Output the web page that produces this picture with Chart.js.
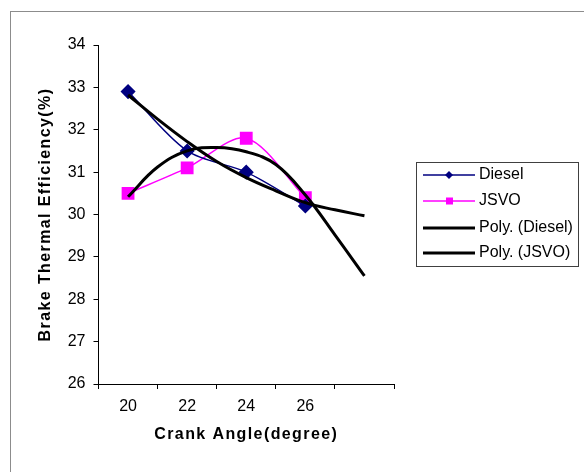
<!DOCTYPE html>
<html>
<head>
<meta charset="utf-8">
<script src="https://cdn.jsdelivr.net/npm/chart.js@4.4.0/dist/chart.umd.min.js"></script>
<style>
  html, body { margin: 0; padding: 0; background: #fff; }
  canvas { display: block; }
</style>
</head>
<body>
<canvas id="chart" width="584" height="472"></canvas>
<script>
// Category labels (last slot is empty: trendlines are forecast one period forward)
const angles = ['20', '22', '24', '26', ''];
const yTicks = [26, 27, 28, 29, 30, 31, 32, 33, 34];

// Measured series
const diesel = [32.9, 31.5, 31.0, 30.2];
const jsvo = [30.5, 31.1, 31.8, 30.4];

// Polynomial trendlines at half-category steps
const trendPos = [1, 1.5, 2, 2.5, 3, 3.5, 4, 4.5, 5];
const polyDiesel = [32.82, 32.25, 31.72, 31.25, 30.87, 30.56, 30.28, 30.11, 29.97];
const polyJsvo = [30.42, 31.12, 31.5, 31.58, 31.48, 31.18, 30.46, 29.52, 28.55];

const FONT = 'Liberation Sans, Arial, sans-serif';

// Outer chart border + axis titles with wide letter spacing
const frame = {
    id: 'frame',
    beforeDraw(chart) {
        const ctx = chart.ctx;
        ctx.save();
        ctx.strokeStyle = '#8c8c8c';
        ctx.lineWidth = 1;
        ctx.strokeRect(10.5, 11.5, 800, 800);
        ctx.restore();
    },
    afterDraw(chart) {
        const ctx = chart.ctx;
        const area = chart.chartArea;
        ctx.save();
        ctx.fillStyle = '#000';
        ctx.font = 'bold 16px ' + FONT;
        ctx.letterSpacing = '1.4px';
        ctx.textAlign = 'center';
        ctx.textBaseline = 'middle';
        ctx.fillText('Crank Angle(degree)', (area.left + area.right) / 2, 435);
        ctx.translate(46, (area.top + area.bottom) / 2);
        ctx.rotate(-Math.PI / 2);
        ctx.fillText('Brake Thermal Efficiency(%)', 0, 0);
        ctx.restore();
    }
};

// Excel-style legend box on the right
const sideLegend = {
    id: 'sideLegend',
    afterDraw(chart) {
        const ctx = chart.ctx;
        ctx.save();
        ctx.strokeStyle = '#404040';
        ctx.lineWidth = 1;
        ctx.strokeRect(416.5, 162.5, 162, 104);
        ctx.font = '16px ' + FONT;
        ctx.textBaseline = 'middle';
        const rows = [175, 201, 228, 253];
        chart.data.datasets.forEach((ds, i) => {
            const y = rows[i];
            ctx.strokeStyle = ds.borderColor;
            ctx.lineWidth = ds.borderWidth;
            ctx.beginPath();
            ctx.moveTo(423, y);
            ctx.lineTo(475, y);
            ctx.stroke();
            ctx.fillStyle = ds.borderColor;
            if (ds.pointStyle === 'rectRot') {
                ctx.beginPath();
                ctx.moveTo(449, y - 4);
                ctx.lineTo(453, y);
                ctx.lineTo(449, y + 4);
                ctx.lineTo(445, y);
                ctx.closePath();
                ctx.fill();
            } else if (ds.pointStyle === 'rect') {
                ctx.fillRect(446, y - 3.5, 7, 7);
            }
            ctx.fillStyle = '#000';
            ctx.fillText(ds.label, 479, y);
        });
        ctx.restore();
    }
};

new Chart(document.getElementById('chart'), {
    type: 'line',
    data: {
        labels: angles,
        datasets: [
            {
                label: 'Diesel',
                data: diesel,
                borderColor: '#000080',
                backgroundColor: '#000080',
                borderWidth: 1.5,
                pointStyle: 'rectRot',
                pointRadius: 6.5,
                tension: 0.3,
                order: 2
            },
            {
                label: 'JSVO',
                data: jsvo,
                borderColor: '#ff00ff',
                backgroundColor: '#ff00ff',
                borderWidth: 1.5,
                pointStyle: 'rect',
                pointRadius: 8,
                tension: 0.3,
                order: 2
            },
            {
                label: 'Poly. (Diesel)',
                data: trendPos.map((x, i) => ({ x: x, y: polyDiesel[i] })),
                xAxisID: 'xt',
                borderColor: '#000',
                borderWidth: 3,
                pointRadius: 0,
                tension: 0.4,
                order: 1
            },
            {
                label: 'Poly. (JSVO)',
                data: trendPos.map((x, i) => ({ x: x, y: polyJsvo[i] })),
                xAxisID: 'xt',
                borderColor: '#000',
                borderWidth: 3,
                pointRadius: 0,
                tension: 0.4,
                order: 1
            }
        ]
    },
    options: {
        responsive: false,
        animation: false,
        layout: {
            padding: { top: 45, right: 190, bottom: 10, left: 30 }
        },
        plugins: {
            legend: { display: false },
            tooltip: { enabled: false }
        },
        scales: {
            x: {
                type: 'category',
                offset: true,
                grid: {
                    offset: true,
                    drawOnChartArea: false,
                    drawTicks: true,
                    tickLength: 5,
                    color: '#000'
                },
                border: { color: '#000', width: 1 },
                ticks: {
                    color: '#000',
                    font: { family: FONT, size: 16 },
                    padding: 8,
                    maxRotation: 0,
                    autoSkip: false
                },
                afterFit: (s) => { s.height = 78; }
            },
            xt: {
                type: 'linear',
                min: 0.5,
                max: 5.5,
                display: false
            },
            y: {
                min: 26,
                max: 34,
                afterBuildTicks: (s) => { s.ticks = yTicks.map(v => ({ value: v })); },
                grid: {
                    drawOnChartArea: false,
                    drawTicks: true,
                    tickLength: 5,
                    color: '#000'
                },
                border: { color: '#000', width: 1 },
                ticks: {
                    color: '#000',
                    font: { family: FONT, size: 16 },
                    padding: 8
                },
                afterFit: (s) => { s.width = 68.5; }
            }
        }
    },
    plugins: [frame, sideLegend]
});
</script>
</body>
</html>
